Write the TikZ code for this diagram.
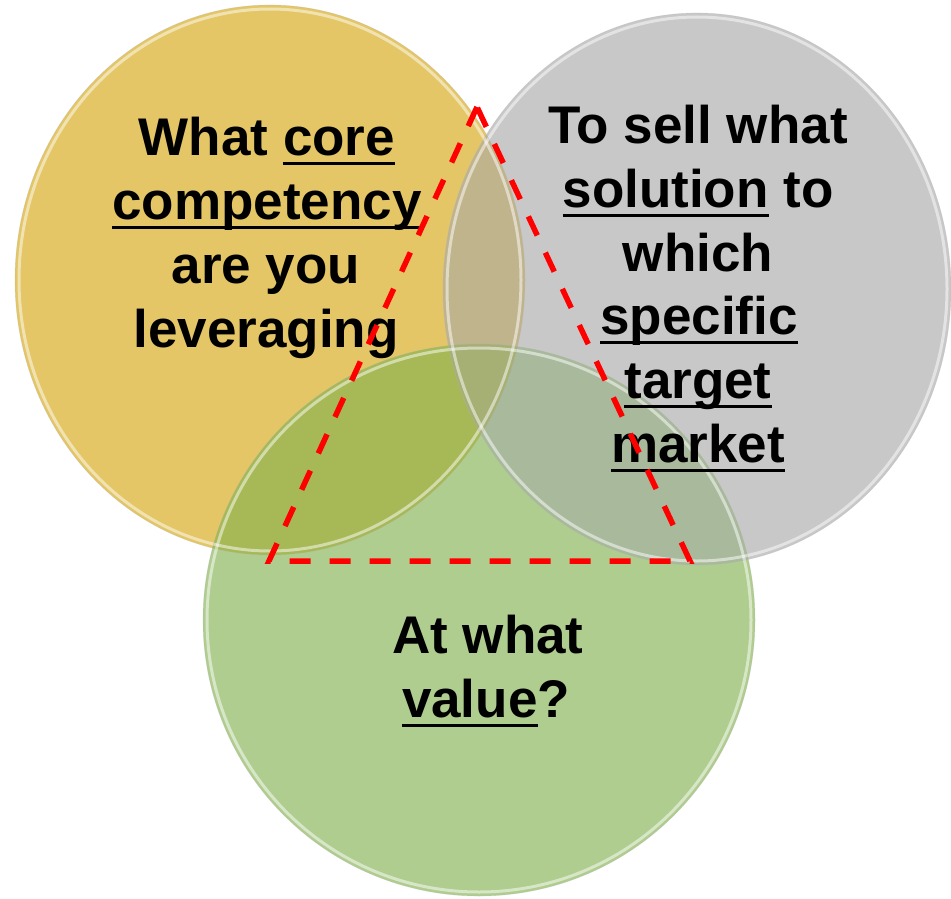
\documentclass[tikz,border=0pt]{standalone}
\usepackage{fontspec}
\setmainfont{Liberation Sans}
\newsavebox\ulbox
\newcommand\ulw[1]{\sbox\ulbox{#1}\rlap{\rule[-9.5pt]{\wd\ulbox}{3pt}}\usebox\ulbox}
\definecolor{cyel}{RGB}{228,198,102}
\definecolor{cgry}{RGB}{200,200,200}
\definecolor{cgrn}{RGB}{175,205,142}
\definecolor{cyelgry}{RGB}{192,180,140}
\definecolor{cyelgrn}{RGB}{166,185,86}
\definecolor{cgrygrn}{RGB}{168,185,156}
\definecolor{callthree}{RGB}{166,176,116}
\tikzset{
  txt/.style={font=\fontsize{53}{64}\selectfont\bfseries, text=black, inner sep=0pt, anchor=base},
  tri/.style={draw=red, line width=5.5pt, dash pattern=on 21pt off 19pt, line join=miter},
  rim/.style={draw=white, line width=3pt, opacity=0.5},
  outl/.style={draw=black!30, line width=0.6pt, opacity=0.35}
}
\begin{document}
\begin{tikzpicture}[x=1pt,y=-1pt]
\useasboundingbox (0,0) rectangle (951,899);
% base fills
\fill[cyel] (270,280) ellipse [x radius=255pt, y radius=275pt];
\fill[cgry] (697,289) ellipse [x radius=254pt, y radius=276pt];
\fill[cgrn] (479,620) circle [radius=276pt];
% overlaps
\begin{scope}
  \clip (270,280) ellipse [x radius=255pt, y radius=275pt];
  \fill[cyelgry] (697,289) ellipse [x radius=254pt, y radius=276pt];
  \fill[cyelgrn] (479,620) circle [radius=276pt];
\end{scope}
\begin{scope}
  \clip (697,289) ellipse [x radius=254pt, y radius=276pt];
  \fill[cgrygrn] (479,620) circle [radius=276pt];
  \clip (270,280) ellipse [x radius=255pt, y radius=275pt];
  \fill[callthree] (479,620) circle [radius=276pt];
\end{scope}
% rims and outlines
\draw[rim] (270,280) ellipse [x radius=251pt, y radius=271pt];
\draw[rim] (697,289) ellipse [x radius=250pt, y radius=272pt];
\draw[rim] (479,620) circle [radius=272pt];
\draw[outl] (270,280) ellipse [x radius=255pt, y radius=275pt];
\draw[outl] (697,289) ellipse [x radius=254pt, y radius=276pt];
\draw[outl] (479,620) circle [radius=276pt];
% texts
\node[txt] (y1) at (267,155) {What \ulw{core}};
\node[txt] (y2) at (267,219) {\ulw{competency}};
\node[txt] (y3) at (266,283) {are you};
\node[txt] (y4) at (266,347) {leveraging};
\node[txt] (g1) at (698,143) {To sell what};
\node[txt] (g2) at (698,207) {\ulw{solution} to};
\node[txt] (g3) at (698,271) {which};
\node[txt] (g4) at (699,334) {\ulw{specific}};
\node[txt] (g5) at (698,398) {\ulw{target}};
\node[txt] (g6) at (698,462) {\ulw{market}};
\node[txt] (v1) at (488,653) {At what};
\node[txt] (v2) at (486,717) {\ulw{value}?};
% dashed triangle
\coordinate (ta) at (477,107);
\coordinate (tl) at (269,561);
\coordinate (tr) at (690,561);
\draw[tri] (ta) -- (tl) -- (tr) -- cycle;
\end{tikzpicture}
\end{document}
